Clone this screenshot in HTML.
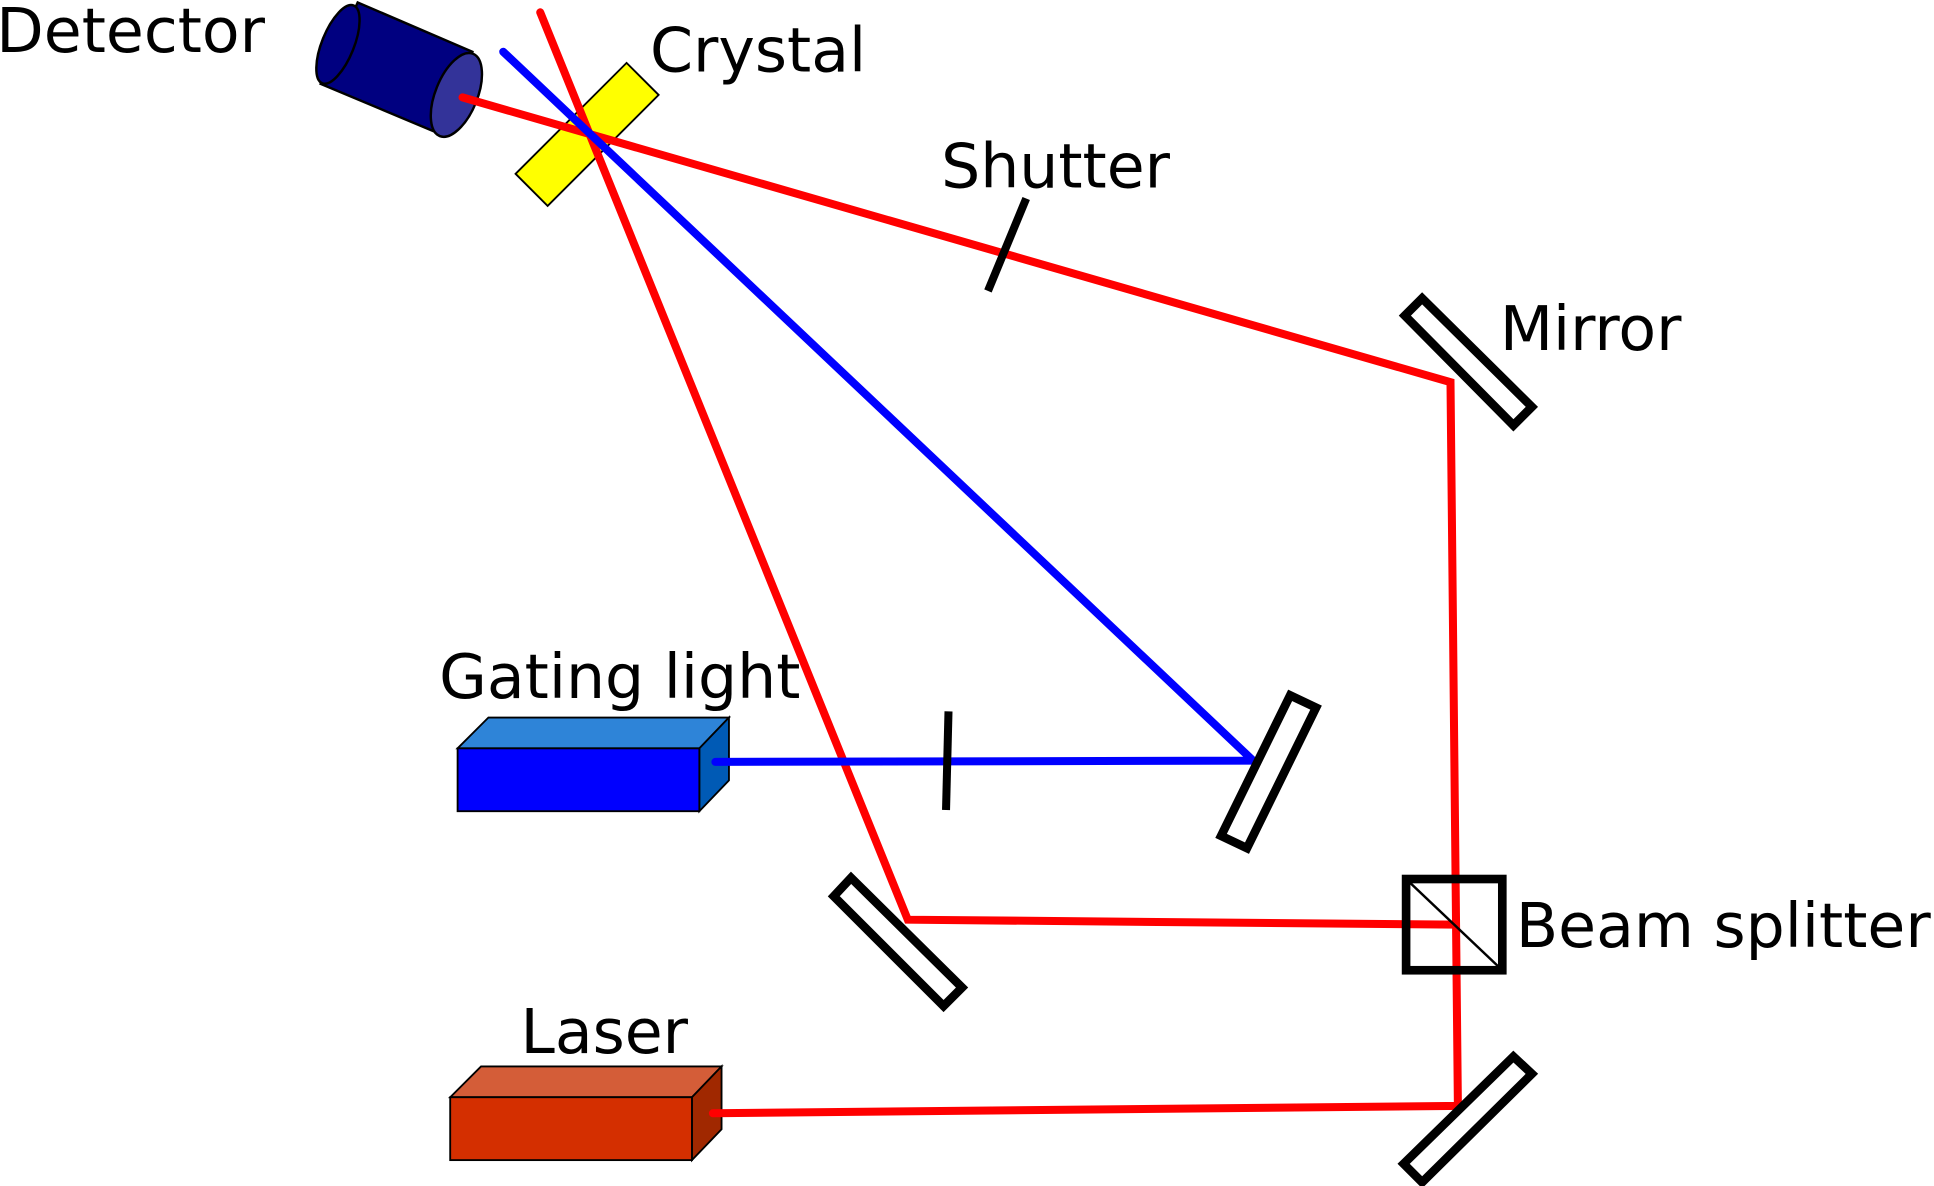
<!DOCTYPE html>
<html><head><meta charset="utf-8"><style>
html,body{margin:0;padding:0;background:#fff;overflow:hidden}
svg{display:block}
text{font-family:"DejaVu Sans","Liberation Sans",sans-serif;font-size:50px;fill:#000}
</style></head><body>
<svg width="1934" height="1186" viewBox="0 0 1568 962" preserveAspectRatio="none" xmlns="http://www.w3.org/2000/svg">
<!-- Detector -->
<g stroke="#000" stroke-width="2">
<polygon points="290,2 383,42 360,110 260,68" fill="#000080"/>
<ellipse cx="274" cy="36" rx="13" ry="34" transform="rotate(22 274 36)" fill="#000080"/>
<ellipse cx="370" cy="77" rx="17" ry="36" transform="rotate(22 370 77)" fill="#333399"/>
</g>
<!-- Crystal -->
<polygon points="418,141 508,51 534,77 444,167" fill="#ffff00" stroke="#000" stroke-width="1.5"/>
<!-- boxes -->
<g stroke="#000" stroke-width="1.5">
<polygon points="371,607 396,582 591,582 567,607" fill="#2e84d8"/>
<polygon points="567,607 591,582 591,633 567,658" fill="#005ab5"/>
<rect x="371" y="607" width="196" height="51" fill="#0000ff"/>
<polygon points="365,890 390,865 585,865 561,890" fill="#d45d38"/>
<polygon points="561,890 585,865 585,916 561,941" fill="#a02800"/>
<rect x="365" y="890" width="196" height="51" fill="#d42f00"/>
</g>
<!-- beams -->
<g stroke-width="6.5" stroke-linecap="round" fill="none">
<polyline points="438,10 736,746 1180,750" stroke="#ff0000"/>
<polyline points="375,79 1176,310 1182,897 578,903" stroke="#ff0000"/>
<polyline points="408,42 1016,617 580,618" stroke="#0000ff"/>
</g>
<!-- shutters -->
<g stroke="#000" stroke-width="6.5">
<line x1="832" y1="161" x2="801" y2="236"/>
<line x1="769" y1="577" x2="767" y2="657"/>
</g>
<!-- mirrors -->
<g stroke="#000" stroke-width="7" fill="#fff" stroke-linejoin="miter">
<polygon points="1139,256 1153,242 1242,330 1227,345"/>
<polygon points="990,678 1046,564 1067,574 1011,688"/>
<polygon points="676,727 690,712 780,801 765,816"/>
<polygon points="1138,944 1227,857 1242,871 1153,959"/>
</g>
<!-- beam splitter -->
<rect x="1140" y="713" width="78" height="74" fill="none" stroke="#000" stroke-width="7"/>
<line x1="1140" y1="713" x2="1218" y2="787" stroke="#000" stroke-width="2"/>
<!-- labels -->
<text x="-3" y="42">Detector</text>
<text x="527" y="58">Crystal</text>
<text x="763" y="152">Shutter</text>
<text x="1216" y="284">Mirror</text>
<text x="356" y="566">Gating light</text>
<text x="1229" y="768">Beam splitter</text>
<text x="422" y="854">Laser</text>
</svg>
</body></html>
